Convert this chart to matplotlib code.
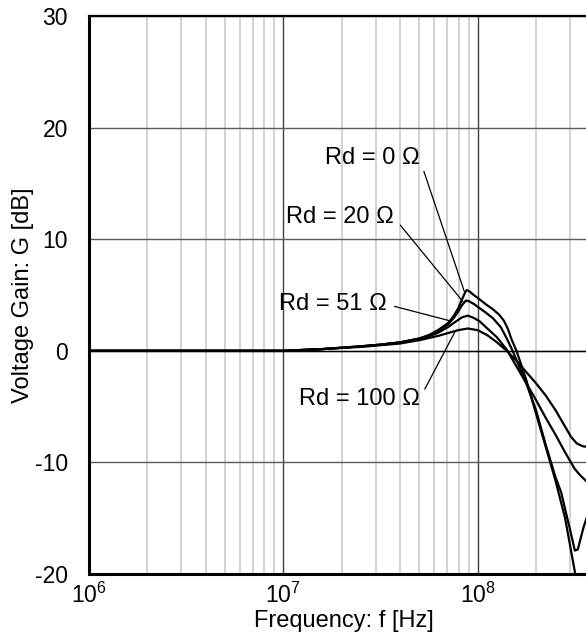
import numpy as np
import matplotlib
matplotlib.use("Agg")
import matplotlib.pyplot as plt
from matplotlib.ticker import FixedLocator, FuncFormatter

plt.rcParams["font.family"] = ["Liberation Sans", "DejaVu Sans"]
plt.rcParams["mathtext.fontset"] = "custom"
plt.rcParams["mathtext.rm"] = "Liberation Sans"
plt.rcParams["axes.unicode_minus"] = False

# log10(frequency / Hz) and gain in dB
logf_rd0 = [6.0, 7.0, 7.2, 7.4, 7.5, 7.6, 7.7, 7.75, 7.8, 7.85, 7.88, 7.9, 7.92,
            7.935, 7.945, 7.96, 7.98, 8.0, 8.04, 8.08, 8.11, 8.135, 8.155, 8.175, 8.2,
            8.25, 8.3, 8.35, 8.4, 8.45, 8.5, 8.52]
gain_rd0 = [0.0, 0.0, 0.15, 0.4, 0.55, 0.75, 1.1, 1.4, 1.9, 2.5, 3.2, 3.8, 4.6,
            5.2, 5.45, 5.3, 5.0, 4.75, 4.2, 3.7, 3.25, 2.7, 2.0, 1.0, 0.0,
            -2.6, -5.6, -8.6, -11.6, -15.0, -19.8, -21.5]

logf_rd20 = [6.0, 7.0, 7.2, 7.4, 7.5, 7.6, 7.7, 7.75, 7.8, 7.85, 7.88, 7.9, 7.92,
             7.94, 7.955, 7.98, 8.0, 8.04, 8.08, 8.12, 8.15, 8.18, 8.25, 8.3,
             8.35, 8.4, 8.43, 8.45, 8.475, 8.5, 8.515, 8.527, 8.545, 8.56]
gain_rd20 = [0.0, 0.0, 0.15, 0.4, 0.55, 0.75, 1.1, 1.4, 1.8, 2.4, 3.0, 3.5, 4.1,
             4.5, 4.45, 4.2, 3.95, 3.45, 2.9, 2.1, 1.1, 0.0, -2.9, -5.3,
             -8.4, -11.3, -12.7, -14.2, -16.0, -17.9, -17.8, -17.0, -15.8, -15.0]

logf_rd51 = [6.0, 7.0, 7.2, 7.4, 7.5, 7.6, 7.7, 7.75, 7.8, 7.85, 7.89, 7.92, 7.95,
             7.98, 8.01, 8.05, 8.1, 8.15, 8.2, 8.25, 8.3, 8.35, 8.4, 8.45, 8.5,
             8.53, 8.56]
gain_rd51 = [0.0, 0.0, 0.15, 0.4, 0.55, 0.75, 1.05, 1.3, 1.65, 2.15, 2.65, 3.0, 3.15,
             2.95, 2.65, 2.0, 1.2, 0.1, -1.4, -2.9, -4.4, -6.0, -7.5, -9.1, -10.6,
             -11.2, -11.7]

logf_rd100 = [6.0, 7.0, 7.2, 7.4, 7.5, 7.6, 7.7, 7.75, 7.8, 7.85, 7.9, 7.95, 8.0,
              8.05, 8.1, 8.15, 8.2, 8.25, 8.3, 8.35, 8.4, 8.45, 8.48, 8.51, 8.54, 8.56]
gain_rd100 = [0.0, 0.0, 0.15, 0.35, 0.5, 0.65, 0.95, 1.15, 1.35, 1.6, 1.85, 2.0, 1.85,
              1.4, 0.75, 0.0, -0.9, -1.9, -2.9, -4.0, -5.3, -6.8, -7.7, -8.3, -8.55, -8.6]

# label text, text centre (logf, dB), point on the curve (logf, dB)
labels = ["Rd = 0 Ω", "Rd = 20 Ω", "Rd = 51 Ω", "Rd = 100 Ω"]
label_xy = [(7.457, 17.3), (7.293, 11.95), (7.254, 4.17), (7.39, -4.35)]
curve_xy = [(7.932, 5.3), (7.925, 4.4), (7.855, 2.7), (7.885, 1.75)]

curves = [(logf_rd0, gain_rd0), (logf_rd20, gain_rd20),
          (logf_rd51, gain_rd51), (logf_rd100, gain_rd100)]

decades = [1e6, 1e7, 1e8]
minor_f = [m * d for d in decades for m in range(2, 10)]

fig = plt.figure(figsize=(5.86, 6.41), dpi=100)
ax = fig.add_axes([88.6 / 586, 1 - 574 / 641, 3 * 194.5 / 586, 558 / 641])

for lf, g in curves:
    ax.plot(10 ** np.array(lf), g, color="black", lw=1.6, zorder=4)

ax.set_xscale("log")
ax.set_xlim(1e6, 1e9)
ax.set_ylim(-20, 30)
ax.yaxis.set_major_locator(FixedLocator([-20, -10, 0, 10, 20, 30]))
ax.xaxis.set_major_locator(FixedLocator(decades))
ax.xaxis.set_minor_locator(FixedLocator(minor_f))
ax.xaxis.set_major_formatter(FuncFormatter(
    lambda v, p: r"$\mathregular{10^{%d}}$" % round(np.log10(v))))

ax.grid(which="minor", axis="x", color="#cfcfcf", lw=1.3, zorder=1)
ax.grid(which="major", axis="x", color="#404040", lw=1.0, zorder=2)
ax.grid(which="major", axis="y", color="#5a5a5a", lw=1.0, zorder=2)
ax.axhline(0, color="black", lw=1.0, zorder=3)

ax.tick_params(which="both", length=0, labelsize=16.5)
ax.tick_params(axis="y", pad=15)
ax.tick_params(axis="x", pad=6)

for side in ("left", "bottom"):
    ax.spines[side].set_linewidth(2.2)
ax.spines["top"].set_linewidth(1.6)
ax.spines["right"].set_visible(False)

ax.set_xlabel("Frequency: f [Hz]", fontsize=17)
ax.set_ylabel("Voltage Gain: G [dB]", fontsize=17)
ax.xaxis.set_label_coords(0.438, -0.064)
ax.yaxis.set_label_coords(-0.093, 0.5)

for text, (tx, ty), (cx, cy) in zip(labels, label_xy, curve_xy):
    ax.annotate(text, xy=(10 ** cx, cy), xytext=(10 ** tx, ty),
                fontsize=17, ha="center", va="center", zorder=5,
                arrowprops=dict(arrowstyle="-", color="black", lw=0.9,
                                shrinkA=4, shrinkB=0, relpos=(1, 0.5)))

fig.savefig("out.png", dpi=100)
